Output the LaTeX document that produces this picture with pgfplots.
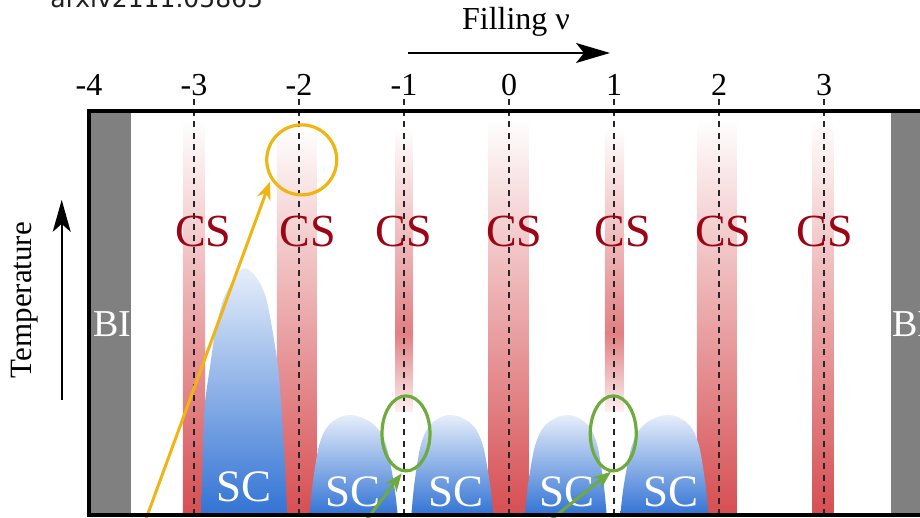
\documentclass[border=0pt]{standalone}
\usepackage{pgfplots}
\pgfplotsset{compat=1.18}
\usepackage{fontspec}
\setmainfont{Liberation Serif}
\newfontfamily\arxivfont{DejaVu Sans}
\usetikzlibrary{arrows.meta}
\definecolor{csred}{RGB}{214,78,82}
\definecolor{cstext}{RGB}{155,5,22}
\definecolor{scblue}{RGB}{50,115,212}
\definecolor{sclight}{RGB}{230,238,250}
\definecolor{bigray}{RGB}{128,128,128}
\definecolor{ringyellow}{RGB}{240,180,20}
\definecolor{ringgreen}{RGB}{110,170,60}
\begin{document}
\begin{tikzpicture}
\useasboundingbox (-44.5pt,-1.5pt) rectangle (415.5pt,257.5pt);
\clip (-44.5pt,-1.5pt) rectangle (415.5pt,257.5pt);
\begin{axis}[
  at={(0,0)}, anchor=south west,
  scale only axis, width=420pt, height=202pt,
  xmin=-4, xmax=4, ymin=0, ymax=1,
  xtick={-4,-3,-2,-1,0,1,2,3,4},
  xticklabels={-4,-3,-2,-1,0,1,2,3,4},
  xticklabel pos=upper,
  ytick=\empty,
  major tick length=0pt,
  axis line style={line width=2pt},
  tick label style={font=\fontsize{16}{18}\selectfont},
  xticklabel style={yshift=4pt},
  clip=false,
  axis on top,
]
% band insulators
\addplot[draw=none, fill=bigray] coordinates {(-4,0)(-4,1)(-3.6,1)(-3.6,0)};
\addplot[draw=none, fill=bigray] coordinates {(3.64,0)(3.64,1)(4,1)(4,0)};
% correlated states (CS) bars
\addplot[draw=none, top color=white, middle color=csred!45, bottom color=csred] coordinates {(-3.105,0)(-3.105,0.98)(-2.895,0.98)(-2.895,0)};
\addplot[draw=none, top color=white, middle color=csred!45, bottom color=csred] coordinates {(-2.21,0)(-2.21,0.96)(-1.83,0.96)(-1.83,0)};
\addplot[draw=none, top color=white, middle color=csred!45, bottom color=csred] coordinates {(-0.20,0)(-0.20,0.98)(0.19,0.98)(0.19,0)};
\addplot[draw=none, top color=white, middle color=csred!45, bottom color=csred] coordinates {(1.79,0)(1.79,0.98)(2.17,0.98)(2.17,0)};
\addplot[draw=none, top color=white, middle color=csred!45, bottom color=csred] coordinates {(2.886,0)(2.886,0.98)(3.095,0.98)(3.095,0)};
% nu = -1, +1 bars (fade out at both ends)
\addplot[draw=none, top color=white, bottom color=csred!72] coordinates {(-1.085,0.45)(-1.085,0.96)(-0.915,0.96)(-0.915,0.45)};
\addplot[draw=none, top color=csred!72, bottom color=csred!8] coordinates {(-1.085,0.255)(-1.085,0.45)(-0.915,0.45)(-0.915,0.255)};
\addplot[draw=none, top color=white, bottom color=csred!72] coordinates {(0.914,0.45)(0.914,0.96)(1.095,0.96)(1.095,0.45)};
\addplot[draw=none, top color=csred!72, bottom color=csred!8] coordinates {(0.914,0.255)(0.914,0.45)(1.095,0.45)(1.095,0.255)};
% superconducting domes (SC)
\addplot[draw=none, top color=sclight, bottom color=scblue, smooth, tension=0.5] coordinates {
 (-2.93,0) (-2.922,0.1) (-2.911,0.203) (-2.895,0.28) (-2.848,0.366) (-2.80,0.45) (-2.724,0.532) (-2.645,0.573) (-2.585,0.60) (-2.514,0.611) (-2.446,0.60) (-2.37,0.573) (-2.308,0.532) (-2.248,0.45) (-2.20,0.366) (-2.171,0.28) (-2.152,0.203) (-2.13,0.1) (-2.114,0)};
\addplot[draw=none, top color=sclight, bottom color=scblue, smooth, tension=0.5] coordinates {
 (-1.90,0) (-1.8848,0.0446) (-1.8696,0.0792) (-1.8487,0.1163) (-1.8316,0.1436) (-1.8126,0.1683) (-1.786,0.1906) (-1.7518,0.2104) (-1.6872,0.2302) (-1.596,0.2438) (-1.52,0.2475) (-1.428,0.2438) (-1.3176,0.2302) (-1.2394,0.2104) (-1.198,0.1906) (-1.1658,0.1683) (-1.1428,0.1436) (-1.1221,0.1163) (-1.0968,0.0792) (-1.0784,0.0446) (-1.06,0)};
\addplot[draw=none, top color=sclight, bottom color=scblue, smooth, tension=0.5] coordinates {
 (-0.93,0) (-0.9152,0.0446) (-0.9004,0.0792) (-0.8801,0.1163) (-0.8634,0.1436) (-0.8449,0.1683) (-0.819,0.1906) (-0.7857,0.2104) (-0.7228,0.2302) (-0.634,0.2438) (-0.56,0.2475) (-0.478,0.2438) (-0.3796,0.2302) (-0.3099,0.2104) (-0.273,0.1906) (-0.2443,0.1683) (-0.2238,0.1436) (-0.2054,0.1163) (-0.1828,0.0792) (-0.1664,0.0446) (-0.15,0)};
\addplot[draw=none, top color=sclight, bottom color=scblue, smooth, tension=0.5] coordinates {
 (0.15,0) (0.1664,0.0446) (0.1828,0.0792) (0.2054,0.1163) (0.2238,0.1436) (0.2443,0.1683) (0.273,0.1906) (0.3099,0.2104) (0.3796,0.2302) (0.478,0.2438) (0.56,0.2475) (0.634,0.2438) (0.7228,0.2302) (0.7857,0.2104) (0.819,0.1906) (0.8449,0.1683) (0.8634,0.1436) (0.8801,0.1163) (0.9004,0.0792) (0.9152,0.0446) (0.93,0)};
\addplot[draw=none, top color=sclight, bottom color=scblue, smooth, tension=0.5] coordinates {
 (1.06,0) (1.0784,0.0446) (1.0968,0.0792) (1.1221,0.1163) (1.1428,0.1436) (1.1658,0.1683) (1.198,0.1906) (1.2394,0.2104) (1.3176,0.2302) (1.428,0.2438) (1.52,0.2475) (1.596,0.2438) (1.6872,0.2302) (1.7518,0.2104) (1.786,0.1906) (1.8126,0.1683) (1.8316,0.1436) (1.8487,0.1163) (1.8696,0.0792) (1.8848,0.0446) (1.90,0)};
% integer fillings
\addplot[black!85, line width=0.85pt, dash pattern=on 3pt off 2.7pt] coordinates {(-3,0)(-3,1.03)};
\addplot[black!85, line width=0.85pt, dash pattern=on 3pt off 2.7pt] coordinates {(-2,0)(-2,1.03)};
\addplot[black!85, line width=0.85pt, dash pattern=on 3pt off 2.7pt] coordinates {(-1,0)(-1,1.03)};
\addplot[black!85, line width=0.85pt, dash pattern=on 3pt off 2.7pt] coordinates {(0,0)(0,1.03)};
\addplot[black!85, line width=0.85pt, dash pattern=on 3pt off 2.7pt] coordinates {(1,0)(1,1.03)};
\addplot[black!85, line width=0.85pt, dash pattern=on 3pt off 2.7pt] coordinates {(2,0)(2,1.03)};
\addplot[black!85, line width=0.85pt, dash pattern=on 3pt off 2.7pt] coordinates {(3,0)(3,1.03)};
% labels
\node[text=cstext, anchor=base, font=\fontsize{23}{24}\selectfont] at (axis cs:-2.91,0.664) {CS};
\node[text=cstext, anchor=base, font=\fontsize{23}{24}\selectfont] at (axis cs:-1.914,0.664) {CS};
\node[text=cstext, anchor=base, font=\fontsize{23}{24}\selectfont] at (axis cs:-1.0,0.664) {CS};
\node[text=cstext, anchor=base, font=\fontsize{23}{24}\selectfont] at (axis cs:0.05,0.664) {CS};
\node[text=cstext, anchor=base, font=\fontsize{23}{24}\selectfont] at (axis cs:1.086,0.664) {CS};
\node[text=cstext, anchor=base, font=\fontsize{23}{24}\selectfont] at (axis cs:2.04,0.664) {CS};
\node[text=cstext, anchor=base, font=\fontsize{23}{24}\selectfont] at (axis cs:3.01,0.664) {CS};
\node[text=white, anchor=base, font=\fontsize{22.5}{24}\selectfont] at (axis cs:-2.524,0.033) {SC};
\node[text=white, anchor=base, font=\fontsize{22.5}{24}\selectfont] at (axis cs:-1.486,0.02) {SC};
\node[text=white, anchor=base, font=\fontsize{22.5}{24}\selectfont] at (axis cs:-0.508,0.02) {SC};
\node[text=white, anchor=base, font=\fontsize{22.5}{24}\selectfont] at (axis cs:0.55,0.02) {SC};
\node[text=white, anchor=base, font=\fontsize{22.5}{24}\selectfont] at (axis cs:1.54,0.02) {SC};
\node[text=white, anchor=base west, inner sep=0pt, font=\fontsize{19}{20}\selectfont] at (axis cs:-3.962,0.443) {BI};
\node[text=white, anchor=base west, inner sep=0pt, font=\fontsize{19}{20}\selectfont] at (axis cs:3.648,0.443) {BI};
% annotations
\draw[ringyellow, line width=1.6pt] (axis cs:-1.974,0.879) circle[radius=17.5pt];
\draw[ringyellow, line width=1.5pt, -{Stealth[length=9pt,width=7pt]}] (axis cs:-3.496,-0.037) -- (axis cs:-2.276,0.825);
\draw[ringgreen, line width=1.6pt] (axis cs:-0.981,0.202) ellipse[x radius=12pt, y radius=18.75pt];
\draw[ringgreen, line width=1.6pt] (axis cs:0.993,0.202) ellipse[x radius=11.5pt, y radius=18.75pt];
\draw[ringgreen, line width=1.5pt, -{Stealth[length=9pt,width=7pt]}] (axis cs:-1.429,-0.037) -- (axis cs:-1.022,0.103);
\draw[ringgreen, line width=1.5pt, -{Stealth[length=9pt,width=7pt]}] (axis cs:0.276,-0.037) -- (axis cs:0.971,0.107);
% axis captions
\node[anchor=base, font=\fontsize{16}{18}\selectfont] at (axis cs:0.067,1.202) {Filling ν};
\draw[line width=0.8pt, -{Stealth[length=17pt,width=10pt,inset=4pt]}] (axis cs:-0.962,1.1436) -- (axis cs:0.962,1.1436);
\node[rotate=90, font=\fontsize{15.5}{17}\selectfont] at (axis cs:-4.61,0.532) {Temperature};
\draw[line width=0.8pt, -{Stealth[length=16pt,width=9pt,inset=4pt]}] (axis cs:-4.26,0.285) -- (axis cs:-4.26,0.78);
\node[anchor=base west, inner sep=0pt, text=black!88, font=\arxivfont\fontsize{12.5}{14}\selectfont] at (axis cs:-4.371,1.255) {arxiv2111.05865};
\end{axis}
\end{tikzpicture}
\end{document}
